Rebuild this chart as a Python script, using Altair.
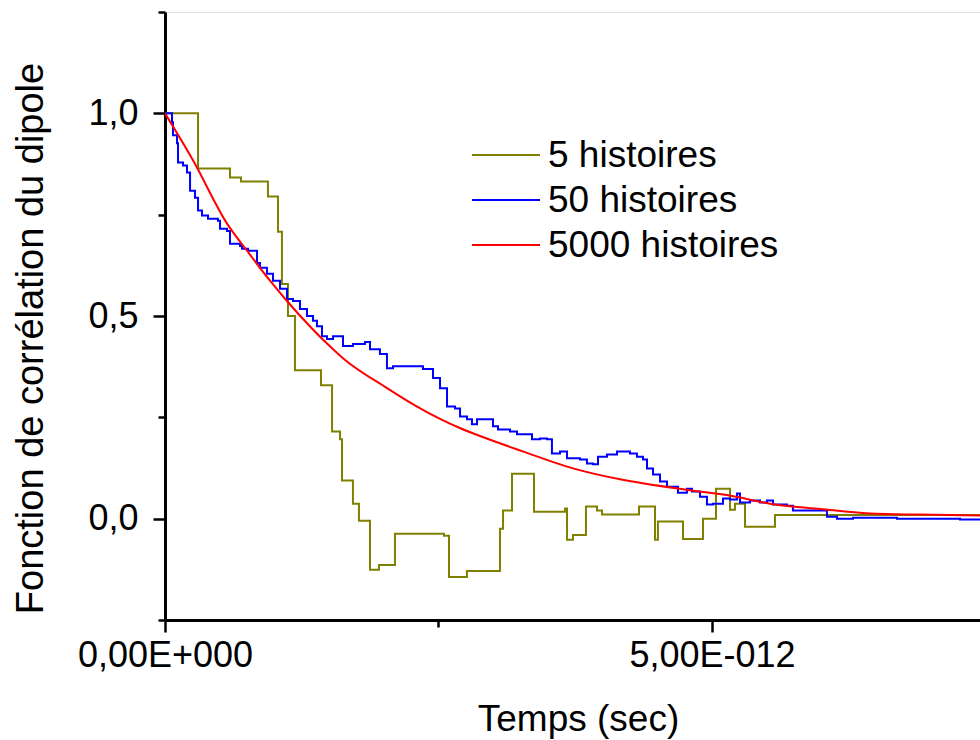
import altair as alt
import pandas as pd

# time values in picoseconds (1E-12 s)
t5 = [0.0, 0.302, 0.594, 0.695, 0.941, 1.033, 1.069, 1.124, 1.188, 1.426, 1.527, 1.600,
      1.618, 1.718, 1.773, 1.874, 1.956, 2.102, 2.550, 2.596, 2.760, 3.062, 3.090, 3.172,
      3.373, 3.656, 3.675, 3.729, 3.848, 3.949, 3.995, 4.333, 4.479, 4.506, 4.735, 4.918,
      5.037, 5.165, 5.210, 5.302, 5.576, 7.45]
v5 = [1.000, 0.864, 0.842, 0.832, 0.795, 0.708, 0.579, 0.500, 0.366, 0.329, 0.215, 0.196,
      0.094, 0.037, -0.005, -0.126, -0.114, -0.037, -0.042, -0.144, -0.129, -0.025, 0.020, 0.111,
      0.017, 0.025, -0.052, -0.040, 0.030, 0.020, 0.010, 0.030, -0.052, -0.007, -0.050, 0.000,
      0.074, 0.022, 0.037, -0.020, 0.009, 0.009]

t50 = [0.000, 0.064, 0.073, 0.110, 0.119, 0.165, 0.201, 0.229, 0.274, 0.302, 0.338, 0.393,
       0.484, 0.503, 0.567, 0.594, 0.686, 0.704, 0.759, 0.804, 0.841, 0.868, 0.932, 0.987,
       1.051, 1.115, 1.170, 1.234, 1.298, 1.353, 1.389, 1.435, 1.481, 1.536, 1.572, 1.627,
       1.718, 1.828, 1.874, 1.965, 2.029, 2.084, 2.175, 2.267, 2.358, 2.450, 2.514, 2.578,
       2.651, 2.697, 2.761, 2.806, 2.852, 2.943, 2.998, 3.044, 3.154, 3.218, 3.309, 3.355,
       3.428, 3.492, 3.537, 3.611, 3.675, 3.793, 3.857, 3.912, 3.958, 4.040, 4.132, 4.177,
       4.250, 4.314, 4.369, 4.406, 4.461, 4.525, 4.589, 4.644, 4.689, 4.771, 4.817, 4.890,
       4.954, 5.009, 5.101, 5.165, 5.229, 5.256, 5.347, 5.439, 5.503, 5.558, 5.686, 5.740,
       5.896, 6.051, 6.143, 6.289, 6.472, 6.691, 6.901, 7.267, 7.450]
v50 = [1.000, 0.978, 0.946, 0.926, 0.879, 0.871, 0.854, 0.809, 0.792, 0.760, 0.748, 0.740,
       0.735, 0.715, 0.710, 0.678, 0.673, 0.666, 0.661, 0.661, 0.631, 0.619, 0.604, 0.587,
       0.567, 0.542, 0.537, 0.517, 0.500, 0.488, 0.475, 0.450, 0.443, 0.450, 0.450, 0.426,
       0.431, 0.436, 0.418, 0.406, 0.371, 0.376, 0.376, 0.376, 0.369, 0.347, 0.322, 0.277,
       0.272, 0.252, 0.245, 0.233, 0.245, 0.245, 0.228, 0.220, 0.215, 0.208, 0.208, 0.196,
       0.198, 0.196, 0.161, 0.166, 0.149, 0.146, 0.136, 0.134, 0.153, 0.158, 0.166, 0.166,
       0.161, 0.153, 0.146, 0.124, 0.109, 0.092, 0.079, 0.079, 0.064, 0.074, 0.067, 0.054,
       0.035, 0.037, 0.050, 0.047, 0.062, 0.040, 0.045, 0.040, 0.045, 0.035, 0.032, 0.020,
       0.020, 0.005, 0.000, 0.002, 0.002, 0.000, 0.000, -0.002, -0.002]

t5000 = [0.0, 0.256, 0.567, 0.750, 0.960, 1.115, 1.536, 1.627, 2.03, 2.30, 2.70, 2.82,
         3.27, 3.73, 4.16, 4.80, 5.16, 5.53, 5.99, 6.44, 6.90, 7.45]
v5000 = [1.0, 0.884, 0.728, 0.661, 0.587, 0.537, 0.418, 0.396, 0.322, 0.277, 0.223, 0.210,
         0.166, 0.124, 0.097, 0.070, 0.057, 0.037, 0.024, 0.013, 0.010, 0.008]

series = ["5 histoires", "50 histoires", "5000 histoires"]
colors = ["#808000", "#0000FF", "#FF0000"]

rows = []
for name, ts, vs in [(series[0], t5, v5), (series[1], t50, v50), (series[2], t5000, v5000)]:
    for i, (t, v) in enumerate(zip(ts, vs)):
        rows.append({"serie": name, "temps": t * 1e-12, "val": v, "ordre": i})
df = pd.DataFrame(rows)
legend_df = pd.DataFrame({"serie": series})

FONT = "Liberation Sans"

x_axis = alt.Axis(
    values=[0, 2.5e-12, 5e-12, 7.5e-12],
    labelExpr="abs(datum.value) < 1e-15 ? '0,00E+000' : (abs(datum.value - 5e-12) < 1e-14 ? '5,00E-012' : '')",
    tickSize={"condition": {"test": "abs(datum.value - 2.5e-12) < 1e-14", "value": 7}, "value": 12},
    grid=False, domainColor="black", domainWidth=3, tickColor="black", tickWidth=2.5,
    labelFont=FONT, labelFontSize=36, labelColor="black", labelPadding=6, labelFlush=False,
    labelOverlap=False,
    title="Temps (sec)", titleFont=FONT, titleFontSize=37, titleFontWeight="normal",
    titleColor="black", titleBaseline="alphabetic", titleY=110, titleX=413,
)
y_axis = alt.Axis(
    values=[-0.25, 0, 0.25, 0.5, 0.75, 1.0, 1.25],
    labelExpr="(round(datum.value * 4) % 2 != 0) ? '' : replace(format(datum.value, '.1f'), '.', ',')",
    tickSize={"condition": {"test": "round(datum.value * 4) % 2 != 0", "value": 7}, "value": 12},
    grid=False, domainColor="black", domainWidth=3, tickColor="black", tickWidth=2.5,
    labelFont=FONT, labelFontSize=36, labelColor="black", labelPadding=15, labelFlush=False,
    labelOverlap=False,
    title="Fonction de corrélation du dipole", titleFont=FONT, titleFontSize=38,
    titleFontWeight="normal", titleColor="black", titleAngle=-90, titleAlign="center",
    titleBaseline="alphabetic", titleX=-123, titleY=326,
)

color = alt.Color("serie:N", scale=alt.Scale(domain=series, range=colors), legend=None)

base = alt.Chart(df).encode(
    x=alt.X("temps:Q", scale=alt.Scale(domain=[0, 7.45e-12], nice=False, zero=False), axis=x_axis),
    y=alt.Y("val:Q", scale=alt.Scale(domain=[-0.25, 1.25], nice=False, zero=False), axis=y_axis),
    color=color,
    order="ordre:Q",
)

l5 = base.transform_filter(alt.datum.serie == series[0]).mark_line(
    interpolate="step-after", strokeWidth=2, clip=True)
l50 = base.transform_filter(alt.datum.serie == series[1]).mark_line(
    interpolate="step-after", strokeWidth=2, clip=True)
l5000 = base.transform_filter(alt.datum.serie == series[2]).mark_line(
    interpolate="monotone", strokeWidth=2, clip=True)

plot = alt.layer(l5, l50, l5000)

# legend drawn as its own layer (rows spaced like the reference)
leg_y = alt.Y("serie:N", scale=alt.Scale(domain=series, range=[143, 233], type="point", padding=0),
              axis=None)
leg_lines = alt.Chart(legend_df).mark_rule(strokeWidth=2).encode(
    x=alt.value(307), x2=alt.value(375), y=leg_y, color=color)
leg_text = alt.Chart(legend_df).mark_text(
    align="left", baseline="middle", font=FONT, fontSize=37, color="black", dy=1
).encode(x=alt.value(383), y=leg_y, text="serie:N")
legend = alt.layer(leg_lines, leg_text)

chart = alt.layer(plot, legend).resolve_scale(y="independent").properties(
    width=815, height=608,
    autosize=alt.AutoSizeParams(type="none"),
    padding={"left": 165, "top": 12, "right": 0, "bottom": 120},
).configure_view(stroke=None).configure(background="white")

chart.save("out.html", embed_options={"renderer": "svg", "actions": False})
